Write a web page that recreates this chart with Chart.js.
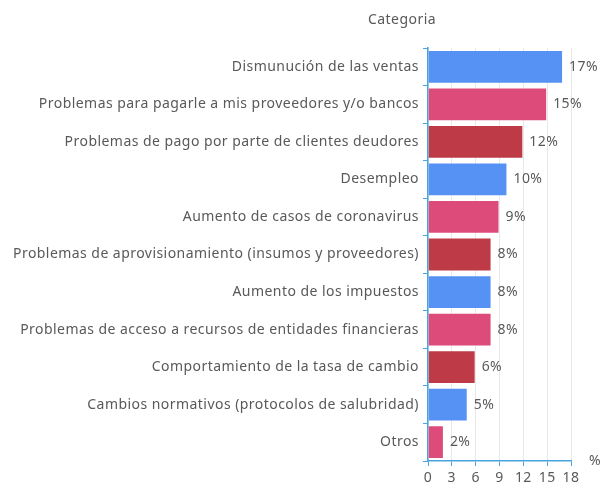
<!DOCTYPE html>
<html>
<head>
<meta charset="utf-8">
<script src="https://cdn.jsdelivr.net/npm/chart.js@4"></script>
<style>
  body { margin: 0; background: #fff; }
  #wrap { width: 603px; height: 485px; }
</style>
</head>
<body>
<div id="wrap"><canvas id="causesChart" width="603" height="485"></canvas></div>
<script>
var categories = [
    'Dismunución de las ventas',
    'Problemas para pagarle a mis proveedores y/o bancos',
    'Problemas de pago por parte de clientes deudores',
    'Desempleo',
    'Aumento de casos de coronavirus',
    'Problemas de aprovisionamiento (insumos y proveedores)',
    'Aumento de los impuestos',
    'Problemas de acceso a recursos de entidades financieras',
    'Comportamiento de la tasa de cambio',
    'Cambios normativos (protocolos de salubridad)',
    'Otros'
];
var percents = [17, 15, 12, 10, 9, 8, 8, 8, 6, 5, 2];
var xTicks = [0, 3, 6, 9, 12, 15, 18];

var palette = ['#5592f4', '#dd4b7b', '#bd3a46'];
var axisBlue = '#4aa3df';
var textGray = '#595959';
var fontFamily = '"Noto Sans", "Open Sans", sans-serif';

// wider letters, closer to the original's font
var spacing = {
    id: 'spacing',
    beforeDraw: function(chart) {
        chart.ctx.letterSpacing = '0.45px';
    }
};

var extraLabels = {
    id: 'extraLabels',
    afterDatasetsDraw: function(chart) {
        var ctx = chart.ctx;
        var meta = chart.getDatasetMeta(0);
        ctx.save();
        ctx.font = '14px ' + fontFamily;
        ctx.fillStyle = textGray;
        ctx.textBaseline = 'middle';
        ctx.textAlign = 'left';
        meta.data.forEach(function(bar, i) {
            ctx.fillText(percents[i] + '%', bar.x + 6, bar.y);
        });
        var area = chart.chartArea;
        ctx.textAlign = 'center';
        ctx.fillText('Categoria', area.left - 26, area.top - 28);
        ctx.textAlign = 'left';
        ctx.fillText('%', area.right + 18, area.bottom);
        ctx.restore();
    }
};

new Chart(document.getElementById('causesChart').getContext('2d'), {
    type: 'bar',
    data: {
        labels: categories,
        datasets: [{
            data: percents,
            backgroundColor: categories.map(function(c, i) { return palette[i % 3]; }),
            borderColor: 'rgba(255,255,255,0.35)',
            borderWidth: 1,
            categoryPercentage: 1,
            barPercentage: 0.9
        }]
    },
    options: {
        indexAxis: 'y',
        responsive: false,
        animation: false,
        layout: { padding: { top: 48, right: 32, left: 0, bottom: 0 } },
        plugins: {
            legend: { display: false },
            tooltip: { enabled: false }
        },
        scales: {
            x: {
                min: 0,
                max: 18,
                afterBuildTicks: function(scale) {
                    scale.ticks = xTicks.map(function(v) { return { value: v }; });
                },
                afterFit: function(scale) { scale.height = 24; },
                grid: { color: '#e8e8e8', tickColor: axisBlue, tickLength: 5 },
                border: { color: axisBlue, width: 1.5 },
                ticks: { color: textGray, font: { size: 14, family: fontFamily }, padding: 4 }
            },
            y: {
                afterFit: function(scale) { scale.width = 428; },
                grid: { drawOnChartArea: false, color: axisBlue, tickLength: 5 },
                border: { color: axisBlue, width: 1.5 },
                ticks: { color: textGray, font: { size: 14, family: fontFamily }, padding: 4, autoSkip: false }
            }
        }
    },
    plugins: [spacing, extraLabels]
});
</script>
</body>
</html>
